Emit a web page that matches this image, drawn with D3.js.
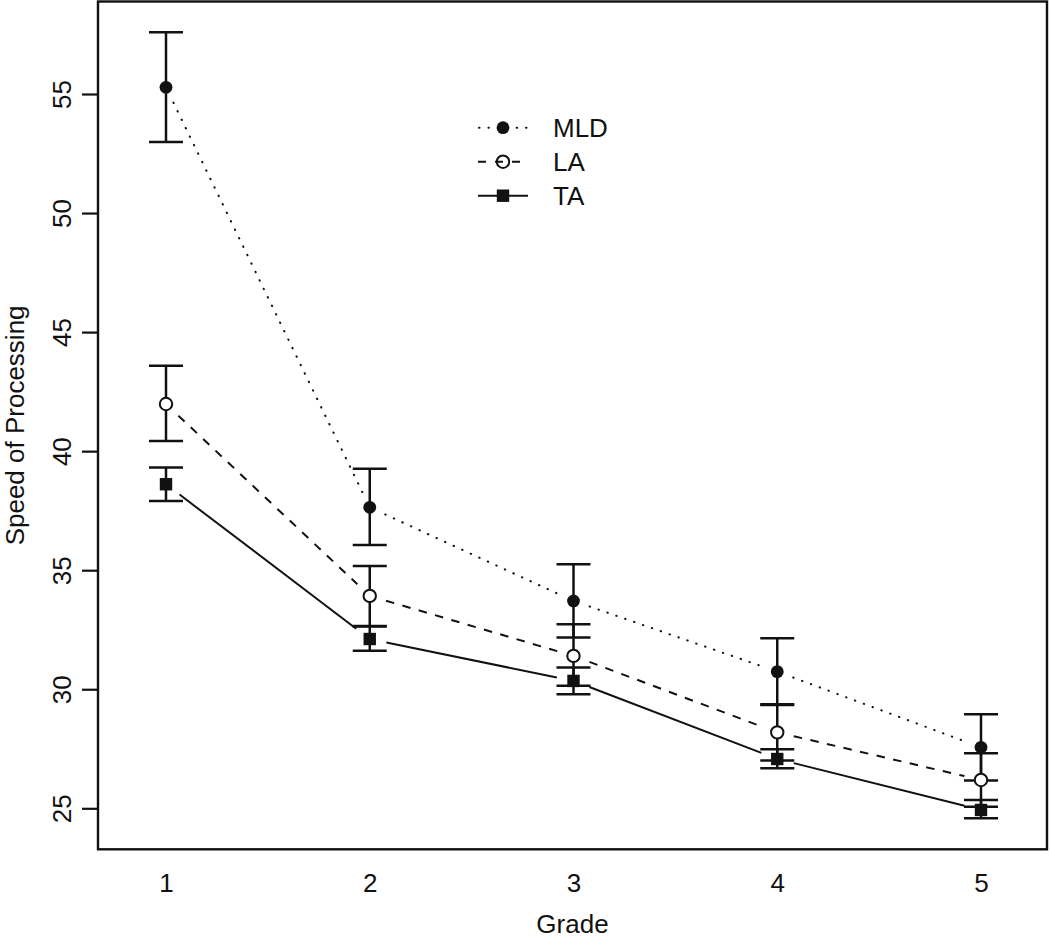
<!DOCTYPE html>
<html>
<head>
<meta charset="utf-8">
<script src="https://cdn.jsdelivr.net/npm/d3@7/dist/d3.min.js"></script>
<style>
  html, body { margin: 0; padding: 0; background: #fff; }
  svg { display: block; }
  text { font-family: "Liberation Sans", Arial, Helvetica, sans-serif; fill: #111; }
</style>
</head>
<body>
<svg id="chart" width="1050" height="939"></svg>
<script>
// ---- data ----
const grades = [1, 2, 3, 4, 5];
const seriesNames = ["MLD", "LA", "TA"];
const mldMean  = [55.28, 37.64, 33.71, 30.74, 27.56];
const mldUpper = [57.59, 39.26, 35.25, 32.14, 28.95];
const mldLower = [52.98, 36.06, 32.17, 29.34, 26.17];
const laMean   = [41.98, 33.92, 31.40, 28.19, 26.19];
const laUpper  = [43.59, 35.18, 32.73, 29.37, 27.31];
const laLower  = [40.43, 32.66, 30.15, 27.01, 25.07];
const taMean   = [38.61, 32.11, 30.35, 27.07, 24.93];
const taUpper  = [39.31, 32.64, 30.91, 27.48, 25.35];
const taLower  = [37.91, 31.62, 29.79, 26.68, 24.58];
const yTicks = [25, 30, 35, 40, 45, 50, 55];
const xLabel = "Grade";
const yLabel = "Speed of Processing";

const series = [
  { name: seriesNames[0], mean: mldMean, upper: mldUpper, lower: mldLower, dash: "0.5,8.9", cap: "round", shape: "filled" },
  { name: seriesNames[1], mean: laMean,  upper: laUpper,  lower: laLower,  dash: "8.5,8.5", cap: "butt",  shape: "open" },
  { name: seriesNames[2], mean: taMean,  upper: taUpper,  lower: taLower,  dash: null,      cap: "butt",  shape: "square" }
];

// ---- layout ----
const svg = d3.select("#chart");
const box = { left: 98, right: 1047, top: 1.5, bottom: 849.3 };
const x = d3.scaleLinear().domain([1, 5]).range([166, 981]);
const y = d3.scaleLinear().domain([25, 55]).range([808.3, 94]);
const ink = "#111";

// plot box
svg.append("rect")
  .attr("x", box.left).attr("y", box.top)
  .attr("width", box.right - box.left).attr("height", box.bottom - box.top)
  .attr("fill", "none").attr("stroke", ink).attr("stroke-width", 2.4);

// y axis
const yAxis = svg.append("g")
  .attr("transform", `translate(${box.left},0)`)
  .call(d3.axisLeft(y).tickValues(yTicks).tickSize(16).tickFormat(d3.format("d")));
yAxis.select(".domain").remove();
yAxis.selectAll(".tick line").attr("stroke", ink).attr("stroke-width", 2.2);
yAxis.selectAll(".tick text")
  .attr("x", null).attr("dy", null)
  .attr("transform", "translate(-27,0) rotate(-90)")
  .attr("text-anchor", "middle")
  .style("font-size", "26px").style("fill", ink);

// x axis (labels only)
const xAxis = svg.append("g")
  .attr("transform", `translate(0,${box.bottom})`)
  .call(d3.axisBottom(x).tickValues(grades).tickSize(0).tickFormat(d3.format("d")));
xAxis.select(".domain").remove();
xAxis.selectAll(".tick line").remove();
xAxis.selectAll(".tick text")
  .attr("y", 43).attr("dy", null)
  .style("font-size", "26px").style("fill", ink);

// axis titles
svg.append("text")
  .attr("x", (box.left + box.right) / 2).attr("y", 932.5)
  .attr("text-anchor", "middle").style("font-size", "26px")
  .text(xLabel);
svg.append("text")
  .attr("transform", `translate(23.5,${(box.top + box.bottom) / 2}) rotate(-90)`)
  .attr("text-anchor", "middle").style("font-size", "26px")
  .text(yLabel);

// ---- lines (type "b": gaps around points) ----
const gap = 17;
const lineG = svg.append("g");
series.forEach(s => {
  for (let i = 0; i < grades.length - 1; i++) {
    const x1 = x(grades[i]), y1 = y(s.mean[i]);
    const x2 = x(grades[i + 1]), y2 = y(s.mean[i + 1]);
    const dx = x2 - x1, dy = y2 - y1, len = Math.hypot(dx, dy);
    const ux = dx / len, uy = dy / len;
    lineG.append("line")
      .attr("x1", x1 + ux * gap).attr("y1", y1 + uy * gap)
      .attr("x2", x2 - ux * gap).attr("y2", y2 - uy * gap)
      .attr("stroke", ink).attr("stroke-width", 2)
      .attr("stroke-linecap", s.cap)
      .attr("stroke-dasharray", s.dash);
  }
});

// ---- error bars ----
const capHalf = 17;
const errG = svg.append("g").attr("stroke", ink).attr("stroke-width", 2.5);
series.forEach(s => {
  grades.forEach((g, i) => {
    const cx = x(g);
    errG.append("line").attr("x1", cx).attr("x2", cx)
      .attr("y1", y(s.lower[i])).attr("y2", y(s.upper[i]));
    errG.append("line").attr("x1", cx - capHalf).attr("x2", cx + capHalf)
      .attr("y1", y(s.upper[i])).attr("y2", y(s.upper[i]));
    errG.append("line").attr("x1", cx - capHalf).attr("x2", cx + capHalf)
      .attr("y1", y(s.lower[i])).attr("y2", y(s.lower[i]));
  });
});

// ---- points ----
function drawPoint(g, shape, cx, cy, openFill) {
  if (shape === "filled") {
    g.append("circle").attr("cx", cx).attr("cy", cy).attr("r", 6.4).attr("fill", ink);
  } else if (shape === "open") {
    g.append("circle").attr("cx", cx).attr("cy", cy).attr("r", 6.2)
      .attr("fill", openFill).attr("stroke", ink).attr("stroke-width", 2);
  } else {
    g.append("rect").attr("x", cx - 6.2).attr("y", cy - 6.2)
      .attr("width", 12.4).attr("height", 12.4).attr("fill", ink);
  }
}
const ptG = svg.append("g");
series.forEach(s => {
  grades.forEach((g, i) => drawPoint(ptG, s.shape, x(g), y(s.mean[i]), "#fff"));
});

// ---- legend ----
const leg = svg.append("g");
const legX1 = 478, legX2 = 528, legPt = 503, legText = 553;
const legY0 = 127.7, legStep = 34;
series.forEach((s, i) => {
  const ly = legY0 + i * legStep;
  leg.append("line")
    .attr("x1", s.shape === "filled" ? legX1 + 1 : legX1).attr("x2", legX2)
    .attr("y1", ly).attr("y2", ly)
    .attr("stroke", ink).attr("stroke-width", 2)
    .attr("stroke-linecap", s.cap)
    .attr("stroke-dasharray", s.shape === "open" ? "8,9" : s.dash);
  drawPoint(leg, s.shape, legPt, ly, "none");
  leg.append("text").attr("x", legText).attr("y", ly + 9.5)
    .style("font-size", "26px").text(s.name);
});
</script>
</body>
</html>
